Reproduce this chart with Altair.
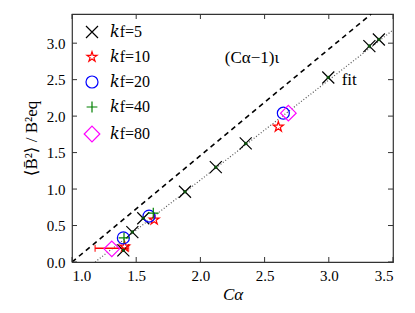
import altair as alt
import pandas as pd

# ---- data ----
k5_c = [1.40, 1.47, 1.555, 1.88, 2.12, 2.353, 2.996, 3.316, 3.39]
k5_b = [0.16, 0.41, 0.60, 0.963, 1.30, 1.626, 2.53, 2.96, 3.05]
k10_c = [1.41, 1.64, 2.607]
k10_b = [0.21, 0.58, 1.853]
k20_c = [1.40, 1.60, 2.646]
k20_b = [0.33, 0.63, 2.04]
k40_c = [1.405, 1.633]
k40_b = [0.33, 0.67]
k80_c = [1.31, 2.685]
k80_b = [0.18, 2.04]

err_lo = [1.18]
err_hi = [1.44]
err_b = [0.19]

theory_c = [1.0, 3.33]
theory_b = [0.0, 3.40]
fit_c = [1.18, 3.5]
fit_b = [0.0, 3.18]

x_ticks = [1.0, 1.5, 2.0, 2.5, 3.0, 3.5]
y_ticks = [0.0, 0.5, 1.0, 1.5, 2.0, 2.5, 3.0]

series = ["𝑘f=5", "𝑘f=10", "𝑘f=20", "𝑘f=40", "𝑘f=80"]
colors = ["#000000", "#ff0000", "#0000ff", "#008000", "#ff00ff"]
STAR = ("M0,-0.88L0.198,-0.272L0.837,-0.272L0.319,0.104L0.517,0.712L0,0.336"
        "L-0.517,0.712L-0.319,0.104L-0.837,-0.272L-0.198,-0.272Z")
CIRCLE = "M1,0A1,1,0,1,1,-1,0A1,1,0,1,1,1,0Z"
shapes = ["M-1,-1L1,1M-1,1L1,-1", STAR, CIRCLE, "M-0.9,0L0.9,0M0,-0.9L0,0.9",
          "M0,-1.3L1.3,0L0,1.3L-1.3,0Z"]

ann_c = [2.19, 3.10]
ann_b = [2.79, 2.49]
ann_t = ["(Cα−1)ι", "fit"]

FONT = "Liberation Serif, DejaVu Serif, serif"
W, H = 321, 248
XD = [1.0, 3.5]
YD = [0.0, 3.4]

rows = []
for name, cs, bs in zip(series, [k5_c, k10_c, k20_c, k40_c, k80_c],
                        [k5_b, k10_b, k20_b, k40_b, k80_b]):
    for c, b in zip(cs, bs):
        rows.append({"series": name, "C": c, "B": b})
pts_df = pd.DataFrame(rows)

xs = alt.Scale(domain=XD, nice=False, zero=False)
ys = alt.Scale(domain=YD, nice=False, zero=False)

xenc = alt.X("C:Q", scale=xs, axis=alt.Axis(values=x_ticks, format=".1f", title="Cα",
                                            titleFontStyle="italic"))
yenc = alt.Y("B:Q", scale=ys, axis=alt.Axis(values=y_ticks, format=".1f",
                                            title="⟨B̄²⟩ / B²eq"))

theory = alt.Chart(pd.DataFrame({"C": theory_c, "B": theory_b})).mark_line(
    color="black", strokeWidth=1.6, strokeDash=[5, 4], clip=True
).encode(x=xenc, y=yenc)

fit = alt.Chart(pd.DataFrame({"C": fit_c, "B": fit_b})).mark_line(
    color="#555555", strokeWidth=1.2, strokeDash=[1, 2], clip=True
).encode(x=xenc, y=yenc)

err_df = pd.DataFrame({"lo": err_lo, "hi": err_hi, "B": err_b})
err = alt.Chart(err_df).mark_rule(color="red", strokeWidth=1.5).encode(
    x=alt.X("lo:Q", scale=xs), x2="hi:Q", y=alt.Y("B:Q", scale=ys))
cap_df = pd.DataFrame({"C": err_lo + err_hi, "B": err_b + err_b})
caps = alt.Chart(cap_df).mark_tick(color="red", thickness=1.5, size=7, orient="vertical").encode(
    x=alt.X("C:Q", scale=xs), y=alt.Y("B:Q", scale=ys))

leg = alt.Legend(title=None, orient="none", legendX=12, legendY=10,
                 padding=0, rowPadding=8, labelFontSize=16, symbolSize=144,
                 labelOffset=10, symbolStrokeWidth=1.2, labelFont=FONT)

points = alt.Chart(pts_df).mark_point(filled=False, strokeWidth=1.2, opacity=1, size=144).encode(
    x=xenc, y=yenc,
    color=alt.Color("series:N", scale=alt.Scale(domain=series, range=colors), legend=leg),
    shape=alt.Shape("series:N", scale=alt.Scale(domain=series, range=shapes), legend=leg),
)

dots = alt.Chart(pd.DataFrame({"C": k5_c, "B": k5_b})).mark_point(
    filled=True, color="#0b4d0b", size=12, opacity=1
).encode(x=xenc, y=yenc)

ann = alt.Chart(pd.DataFrame({"C": ann_c, "B": ann_b, "t": ann_t})).mark_text(
    align="left", baseline="middle", fontSize=17, font=FONT, color="black"
).encode(x=alt.X("C:Q", scale=xs), y=alt.Y("B:Q", scale=ys), text="t:N")

# inward ticks on all four sides
xt = pd.DataFrame({"C": x_ticks})
yt = pd.DataFrame({"B": y_ticks})
tk = dict(color="#333333", strokeWidth=1)
tb = alt.Chart(xt).mark_rule(**tk).encode(x=alt.X("C:Q", scale=xs), y=alt.value(H), y2=alt.value(H - 5))
tt = alt.Chart(xt).mark_rule(**tk).encode(x=alt.X("C:Q", scale=xs), y=alt.value(0), y2=alt.value(5))
tl = alt.Chart(yt).mark_rule(**tk).encode(y=alt.Y("B:Q", scale=ys), x=alt.value(0), x2=alt.value(5))
tr = alt.Chart(yt).mark_rule(**tk).encode(y=alt.Y("B:Q", scale=ys), x=alt.value(W), x2=alt.value(W - 5))

chart = alt.layer(theory, fit, err, caps, points, dots, ann, tb, tt, tl, tr).properties(
    width=W, height=H,
    autosize=alt.AutoSizeParams(type="none"),
    padding={"left": 64, "top": 6, "right": 10, "bottom": 40},
).configure_view(
    stroke="#333333", strokeWidth=1.2
).configure_axis(
    ticks=False, domain=False, grid=False,
    labelFont=FONT, labelFontSize=15, labelColor="black",
    titleFont=FONT, titleFontSize=17, titleFontWeight="normal", titleColor="black",
).configure_axisX(
    labelPadding=6, titlePadding=3
).configure_axisY(
    labelPadding=7, titlePadding=6
)

chart.save("out.html", embed_options={"renderer": "svg", "actions": False})
